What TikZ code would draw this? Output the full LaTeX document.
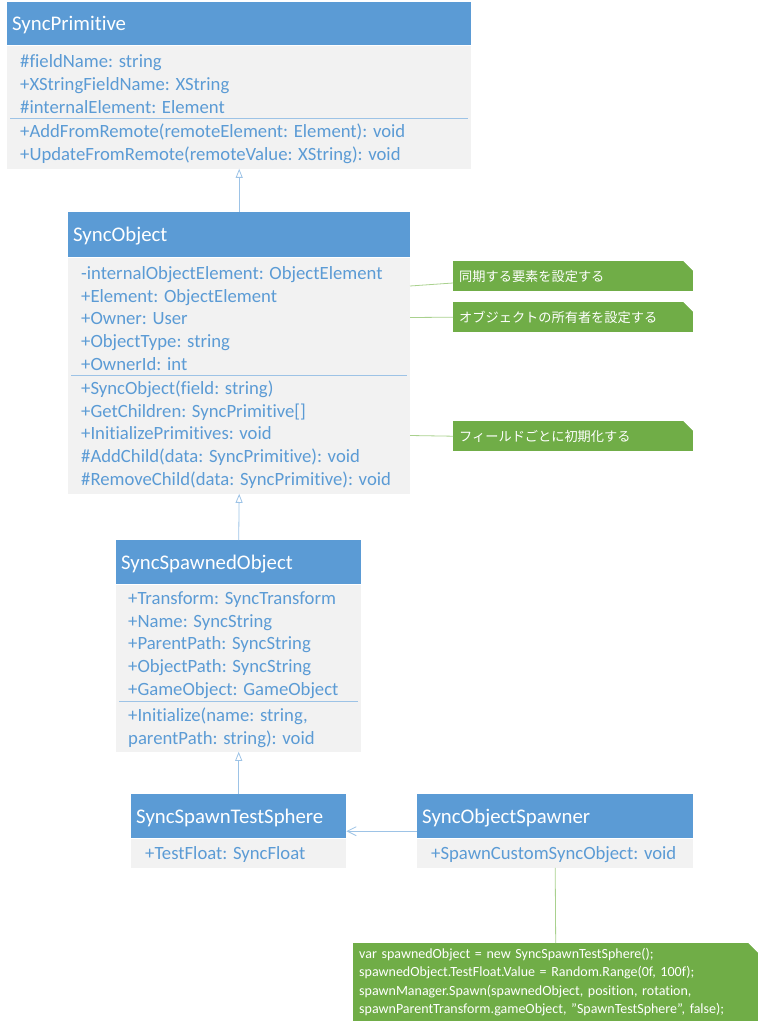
\documentclass[tikz,border=0pt]{standalone}
\usepackage{fontspec}
\setmainfont{Carlito}[Ligatures={NoCommon}]
\newfontfamily\jpfont{Noto Sans CJK JP}
\usetikzlibrary{arrows.meta,positioning}
\definecolor{kopfblau}{HTML}{5B9BD5}
\definecolor{rumpfgrau}{HTML}{F2F2F2}
\definecolor{linieblau}{HTML}{9DC3E6}
\definecolor{notizgruen}{HTML}{70AD47}
\definecolor{notizlinie}{HTML}{A9D18E}

\begin{document}
\begin{tikzpicture}[x=1pt,y=-1pt,
	kopf/.style={fill=kopfblau,text=white,anchor=north west,inner xsep=5pt,inner ysep=0pt,align=left,text depth=0pt,font=\fontsize{20.8}{25}\selectfont},
	rumpf/.style={fill=rumpfgrau,anchor=north west,inner sep=0pt},
	eintrag/.style={text=kopfblau,anchor=west,inner sep=0pt,align=left,font=\fontsize{18.7}{22.6}\selectfont},
	teiler/.style={draw=linieblau,line width=.7pt},
	vererbung/.style={draw=linieblau,line width=.8pt,-{Triangle[open,length=9pt,width=7pt]}},
	assoziation/.style={draw=linieblau,line width=.8pt,-{Straight Barb[length=9pt,width=9pt]}},
	notiz/.style={fill=notizgruen,text=white,anchor=north west,inner xsep=6pt,inner ysep=0pt,align=left,font=\jpfont\fontsize{13.2}{16}\selectfont},
	code/.style={notiz,font=\fontsize{14}{18.3}\selectfont},
	anbinder/.style={draw=notizlinie,line width=.8pt}]

\useasboundingbox (0,0) rectangle (760,1024);

%-------------------------------------------------------------------------------
% SyncPrimitive
%-------------------------------------------------------------------------------
\node (prim) [kopf, text width=454pt, minimum height=43pt] at (7,2) {SyncPrimitive};
\node (primrumpf) [rumpf, minimum width=464pt, minimum height=123pt] at (prim.south west) {};
\node (primattr) [eintrag] at (20,84) {\#fieldName: string\\+XStringFieldName: XString\\\#internalElement: Element};
\node (primmeth) [eintrag] at (20,143.5) {+AddFromRemote(remoteElement: Element): void\\+UpdateFromRemote(remoteValue: XString): void};
\draw [teiler] (10,118) -- (468,118);

%-------------------------------------------------------------------------------
% SyncObject
%-------------------------------------------------------------------------------
\node (obj) [kopf, text width=332pt, minimum height=45pt] at (68,212) {SyncObject};
\node (objrumpf) [rumpf, minimum width=342pt, minimum height=236pt] at (obj.south west) {};
\node (objattr) [eintrag] at (81,318.5) {-internalObjectElement: ObjectElement\\+Element: ObjectElement\\+Owner: User\\+ObjectType: string\\+OwnerId: int};
\node (objmeth) [eintrag] at (81,434.5) {+SyncObject(field: string)\\+GetChildren: SyncPrimitive[]\\+InitializePrimitives: void\\\#AddChild(data: SyncPrimitive): void\\\#RemoveChild(data: SyncPrimitive): void};
\draw [teiler] (71,375) -- (407,375);
\draw [vererbung] (obj.north) -- (primrumpf.south);

%-------------------------------------------------------------------------------
% Notes of SyncObject
%-------------------------------------------------------------------------------
\node (notiz1) [notiz, text width=228pt, minimum height=30pt] at (453,261) {同期する要素を設定する};
\node (notiz2) [notiz, text width=228pt, minimum height=30pt] at (453,302) {オブジェクトの所有者を設定する};
\node (notiz3) [notiz, text width=228pt, minimum height=30pt] at (453,421) {フィールドごとに初期化する};
\foreach \n in {notiz1,notiz2,notiz3}
	\fill [white] (\n.north east) -- ++(-10,0) -- ++(10,10) -- cycle;
\coordinate (objnotiz1) at (410,286);
\coordinate (objnotiz2) at (410,317.5);
\coordinate (objnotiz3) at (410,435.5);
\draw [anbinder] (objnotiz1) -- (notiz1.west |- 0,283);
\draw [anbinder] (objnotiz2) -- (notiz2.west);
\draw [anbinder] (objnotiz3) -- (notiz3.west);

%-------------------------------------------------------------------------------
% SyncSpawnedObject
%-------------------------------------------------------------------------------
\node (spawned) [kopf, text width=235pt, minimum height=44pt] at (116,540) {SyncSpawnedObject};
\node (spawnedrumpf) [rumpf, minimum width=245pt, minimum height=167pt] at (spawned.south west) {};
\node (spawnedattr) [eintrag] at (128,645) {+Transform: SyncTransform\\+Name: SyncString\\+ParentPath: SyncString\\+ObjectPath: SyncString\\+GameObject: GameObject};
\node (spawnedmeth) [eintrag] at (128,727.5) {+Initialize(name: string,\\parentPath: string): void};
\draw [teiler] (119,701) -- (358,701);
\draw [vererbung] (spawned.north) -- (objrumpf.south);

%-------------------------------------------------------------------------------
% SyncSpawnTestSphere / SyncObjectSpawner
%-------------------------------------------------------------------------------
\node (sphere) [kopf, text width=205pt, minimum height=44pt] at (131,794) {SyncSpawnTestSphere};
\node (sphererumpf) [rumpf, minimum width=215pt, minimum height=29pt] at (sphere.south west) {};
\node (sphereattr) [eintrag] at (145,855) {+TestFloat: SyncFloat};
\draw [vererbung] (sphere.north) -- (spawnedrumpf.south);

\node (spawner) [kopf, text width=266pt, minimum height=44pt] at (417,794) {SyncObjectSpawner};
\node (spawnerrumpf) [rumpf, minimum width=276pt, minimum height=29pt] at (spawner.south west) {};
\node (spawnermeth) [eintrag] at (431,855) {+SpawnCustomSyncObject: void};
\draw [assoziation] ([yshift=-15pt]spawner.west) -- ([yshift=-15pt]sphere.east);

\node (notiz4) [code, text width=393pt, minimum height=78pt] at (353,943) {var spawnedObject = new SyncSpawnTestSphere();\\spawnedObject.TestFloat.Value = Random.Range(0f, 100f);\\spawnManager.Spawn(spawnedObject, position, rotation,\\spawnParentTransform.gameObject, "SpawnTestSphere", false);};
\fill [white] (notiz4.north east) -- ++(-10,0) -- ++(10,10) -- cycle;
\draw [anbinder] (spawnerrumpf.south) -- (notiz4.north);
\end{tikzpicture}
\end{document}
